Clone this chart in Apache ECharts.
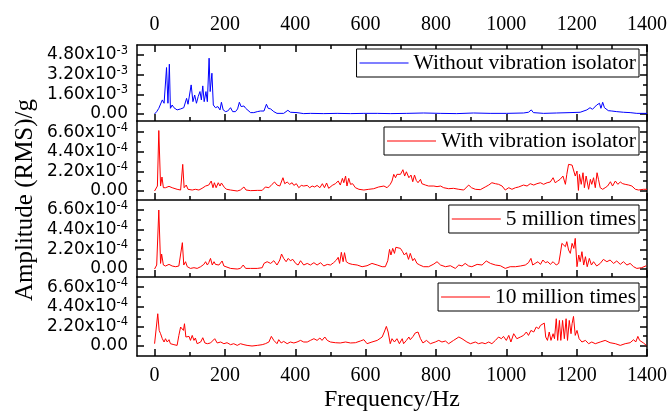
<!DOCTYPE html>
<html><head><meta charset="utf-8">
<script src="https://cdn.jsdelivr.net/npm/echarts@6/dist/echarts.min.js"></script>
<style>html,body{margin:0;padding:0;background:#fff}#c{width:670px;height:412px}</style>
</head><body><div id="c"></div>
<script>
// ---------- data ----------
const seriesNames = ['Without vibration isolator','With vibration isolator','5 million times','10 million times'];
const exponents = ['-3','-4','-4','-4']; // amplitude unit: x10^exp g
const xMajorTicks = [0,200,400,600,800,1000,1200,1400];
const xMinorTicks = [100,300,500,700,900,1100,1300];
const yMajorTicksTop = [0,1.6,3.2,4.8];
const yMinorTicksTop = [0.8,2.4,4.0];
const yMajorTicks = [0,2.2,4.4,6.6];
const yMinorTicks = [1.1,3.3,5.5];

const freq1 = [0,6,12,17,22,27,30,34,38,42,45,50,55,60,64,69,74,79,83,91,95,98,104,109,114,119,124,129,133,137,141,146,150,155,158,163,167,173,180,186,190,195,202,208,216,222,230,236,241,246,254,259,263,273,282,292,301,311,318,323,330,334,339,348,367,379,386,405,424,443,481,519,557,595,633,670,717,765,812,859,907,954,1001,1049,1063,1071,1077,1106,1143,1181,1210,1229,1238,1245,1250,1257,1262,1265,1269,1274,1279,1284,1290,1300,1314,1333,1352,1371,1390,1400];
const amp1 = [0,0.19,0.46,0.60,1.14,0.87,1.00,3.77,0.87,4.04,0.46,0.73,0.51,0.41,0.33,0.19,0.41,0.33,0.51,1.27,0.79,0.87,2.36,1.00,1.54,0.87,1.41,1.82,1.14,2.28,1.00,1.82,1.00,4.53,1.82,3.31,0.73,0.51,0.60,0.33,0.95,0.33,0.19,0.24,0.51,0.19,0.19,0.41,0.95,0.60,0.65,0.46,0.38,0.11,0.11,0.19,0.24,0.24,0.79,0.46,0.41,0.51,0.19,0.05,0.05,0.30,0.14,0.11,0.03,0.05,0.03,0.05,0.03,0.05,0.05,0.03,0.05,0.08,0.05,0.03,0.08,0.05,0.05,0.08,0.14,0.33,0.11,0.05,0.08,0.11,0.14,0.33,0.51,0.38,0.41,0.73,0.60,0.87,0.46,0.95,0.51,0.41,0.27,0.24,0.19,0.14,0.11,0.05,0.05,0.05];

const freq2 = [0,8,12,17,21,25,31,41,50,64,74,80,84,90,95,107,116,126,135,145,150,154,161,166,170,175,181,186,190,195,199,205,216,235,244,254,260,273,292,306,315,325,334,341,348,356,365,370,377,384,391,396,403,410,417,424,434,441,448,455,462,470,477,483,489,495,505,514,522,528,534,538,543,547,552,557,563,571,581,595,609,623,637,652,661,670,675,680,685,689,699,706,711,716,723,729,734,739,744,749,756,760,770,779,794,803,813,822,836,850,865,879,893,901,912,926,940,950,959,969,978,988,997,1007,1016,1026,1035,1049,1059,1068,1078,1087,1097,1106,1116,1125,1133,1139,1146,1153,1161,1168,1172,1177,1182,1187,1191,1196,1201,1205,1208,1213,1218,1222,1227,1234,1239,1243,1248,1253,1258,1262,1267,1274,1281,1288,1296,1302,1310,1317,1324,1331,1338,1348,1357,1367,1376,1390,1400];
const amp2 = [0,0.56,6.79,0.56,1.57,0.37,0.37,0.52,0.37,0.19,0.11,2.99,0.37,0.67,0.19,0.11,0.19,0.11,0.30,0.56,0.37,0.67,1.12,0.37,0.93,0.37,0.93,0.56,0.90,1.04,0.37,0.19,0.11,0,0.11,0.45,0.11,0.04,0.07,0.07,0.45,0.37,0.75,1.01,0.67,0.56,1.49,0.82,1.01,0.75,0.93,0.63,0.82,0.37,0.63,0.56,0.63,0.37,0.56,0.45,0.63,0.37,0.82,0.37,0.90,0.30,0.63,0.82,1.12,0.67,1.42,0.93,1.68,0.56,1.42,0.75,0.82,0.37,0.19,0.11,0.19,0.26,0.45,0.56,0.37,0.75,1.12,1.87,1.49,1.87,1.87,2.39,1.68,2.16,1.49,1.79,1.04,1.79,1.19,0.93,1.31,0.82,0.67,0.56,0.56,0.49,0.56,0.37,0.26,0.30,0.19,0.11,0.67,0.37,0.19,0.15,0.45,0.67,0.93,0.82,0.75,0.56,0.11,0.37,0.19,0.37,0.45,0.67,0.56,0.82,0.67,0.82,0.93,0.75,0.93,1.01,1.49,0.93,1.12,1.31,1.68,0.75,1.87,2.99,2.80,2.91,2.80,1.68,2.24,0.07,1.87,0.75,2.05,0.37,1.68,0.19,1.31,0.75,1.49,0.37,2.05,1.31,0.37,0.19,0.37,0.56,1.04,0.56,1.12,0.75,1.01,0.82,0.75,0.67,0.56,0.19,0.11,0.19,0.19];

const freq3 = [0,6,12,17,20,25,31,41,50,60,69,74,79,83,88,93,102,112,121,131,140,145,150,154,159,164,169,173,178,183,188,192,197,202,216,235,244,252,259,273,292,306,311,320,330,339,348,356,361,367,374,380,386,393,401,408,415,424,434,443,453,462,472,481,491,500,509,517,522,526,531,536,540,545,552,562,576,590,604,618,633,647,656,663,668,672,677,682,686,691,699,705,710,716,722,727,734,739,746,754,765,779,794,803,813,827,841,855,865,874,883,893,902,917,931,943,955,969,983,997,1011,1026,1040,1054,1063,1070,1075,1082,1090,1097,1104,1111,1118,1125,1133,1142,1149,1153,1158,1163,1168,1172,1177,1182,1187,1192,1196,1201,1206,1210,1215,1220,1225,1230,1236,1242,1248,1257,1267,1276,1286,1295,1305,1314,1324,1333,1343,1352,1362,1371,1385,1398];
const amp3 = [0,0.45,6.60,0.63,1.68,0.45,0.34,0.52,0.34,0.26,0.34,0.26,2.95,0.45,0.82,0.26,0.07,0.15,0.07,0.26,0.52,0.82,0.45,0.71,1.19,0.45,0.82,0.52,0.71,0.45,0.63,0.90,0.34,0.15,0.07,0,0.07,0.45,0.07,0.07,0.07,0.15,0.63,0.82,0.63,0.93,0.45,1.01,1.68,1.19,0.82,1.19,0.93,1.08,0.63,0.45,0.93,0.45,0.63,0.45,0.71,0.45,0.71,0.34,0.52,0.45,0.71,1.01,1.31,0.63,1.87,0.82,1.83,0.82,0.63,0.52,0.45,0.26,0.37,0.63,0.45,0.26,0.26,0.93,2.20,1.57,2.31,1.75,2.43,2.50,2.31,1.94,1.57,1.83,1.08,1.75,0.93,1.19,0.63,0.45,0.26,0.26,0.56,0.82,0.45,0.26,0.37,0.07,0.45,0.34,0.63,0.34,0.26,0.52,0.45,0.90,0.63,0.45,0.37,0.07,0.26,0.26,0.34,0.45,0.71,1.19,0.45,0.63,0.82,0.52,1.01,0.71,0.82,0.52,0.82,0.45,0.63,1.57,2.87,3.06,2.50,3.06,2.13,1.75,2.87,2.31,3.43,0.26,1.57,0.82,1.94,0.45,1.38,0.26,1.19,0.45,0.82,0.34,0.63,1.08,0.82,1.01,0.63,0.90,0.52,0.82,0.45,0.63,0.26,0.07,0.15,0.37];

const freq4 = [0,3,9,13,17,22,27,31,36,41,45,55,64,69,74,79,82,85,89,93,98,102,107,112,116,121,131,137,143,150,159,171,178,188,197,206,216,225,235,244,254,263,277,292,306,315,325,332,339,344,348,353,360,367,377,386,396,405,415,424,434,443,453,462,470,476,484,491,500,514,528,543,557,571,585,595,604,618,633,647,653,659,664,670,675,682,689,696,704,708,716,723,727,735,741,749,756,763,773,784,798,808,817,827,836,850,865,874,888,898,912,921,931,940,950,959,969,978,986,992,1000,1007,1013,1021,1030,1040,1049,1057,1063,1070,1078,1085,1092,1097,1102,1108,1112,1117,1122,1127,1133,1137,1142,1146,1151,1155,1160,1165,1170,1174,1179,1184,1187,1191,1196,1201,1207,1215,1225,1234,1243,1253,1267,1281,1295,1310,1324,1338,1352,1362,1368,1374,1379,1383,1390,1398];
const amp4 = [0.26,0.45,3.62,1.75,1.38,0.82,0.45,0.82,0.45,0.71,0.26,0.15,0.07,1.19,2.13,2.31,1.75,2.50,1.01,0.82,1.08,0.63,1.19,0.63,0.90,0.26,0.45,0.93,0.34,0.26,0.34,0.82,0.34,0.45,0.26,0.37,0.15,0.26,0.07,0.26,0.15,0.07,0,0.07,0.15,0.26,0.45,1.08,0.63,0.82,0.26,0.71,0.34,0.52,0.26,0.45,0.34,0.45,0.63,0.45,0.45,0.63,0.82,0.63,0.90,0.63,1.01,0.63,0.45,0.37,0.34,0.45,0.34,0.37,0.56,0.71,0.26,0.45,0.63,1.01,1.57,2.20,1.57,0.26,0.82,0.45,0.82,0.26,0.82,0.26,0.63,1.01,0.71,1.08,1.46,1.57,0.82,0.34,0.63,0.26,0.45,0.63,0.45,0.56,0.26,0.63,1.01,0.82,0.45,0.26,0.45,0.26,0.37,0.26,0.45,0.26,0.63,1.01,0.82,1.08,0.63,1.19,0.45,1.38,0.82,1.01,1.19,1.57,1.19,1.75,1.57,2.13,1.94,2.31,2.50,2.57,1.01,0.63,1.57,0.63,1.38,0.82,3.06,0.63,2.87,0.63,2.87,0.82,3.06,0.63,2.87,1.38,2.50,3.32,1.19,1.75,0.82,0.45,0.63,0.26,0.45,0.26,0.45,0.63,0.37,0.26,0.07,0.26,0.37,0.71,0.45,1.08,0.63,0.82,0.34,0.07];

// ---------- layout / style ----------
const freqs = [freq1,freq2,freq3,freq4];
const amps = [amp1,amp2,amp3,amp4];
const colors = ['#0000ff','#ff0000','#ff0000','#ff0000'];
const grids = [
  {left:137,right:23,top:45,height:76},
  {left:137,right:23,top:121,height:79},
  {left:137,right:23,top:200,height:77},
  {left:137,right:23,top:277,height:79}
];
const yRanges = [[-0.57,5.6],[-1.01,7.86],[-0.89,7.72],[-1.12,7.74]];
const legendTops = [49,127,205,283];
const SERIF = '"Liberation Serif","Times New Roman",serif';
const SANS = '"DejaVu Sans",Verdana,sans-serif';
const black = '#000';
const lineSt = {color:black,width:1.5};

const xAxes = [], yAxes = [], series = [], legends = [];
function xAx(gi, pos, major, labels, line){
  const ticks = major ? xMajorTicks : xMinorTicks;
  return {
    gridIndex:gi, type:'value', min:-50, max:1400, position:pos,
    axisLine:{show:line, onZero:false, lineStyle:lineSt},
    axisTick:{show:true, inside:true, length: major?7:4, customValues:ticks, lineStyle:lineSt},
    axisLabel:{show:labels, customValues:xMajorTicks, margin:10, color:black, fontFamily:SERIF, fontSize:20,
      formatter: v => String(Math.round(v))},
    splitLine:{show:false}
  };
}
function yAx(gi, pos, major, labels, line){
  const top = gi===0;
  const ticks = major ? (top?yMajorTicksTop:yMajorTicks) : (top?yMinorTicksTop:yMinorTicks);
  const exp = exponents[gi];
  return {
    gridIndex:gi, type:'value', min:yRanges[gi][0], max:yRanges[gi][1], position:pos,
    axisLine:{show:line, onZero:false, lineStyle:lineSt},
    axisTick:{show:true, inside:true, length: major?7:4, customValues:ticks, lineStyle:lineSt},
    axisLabel:{show:labels, customValues:top?yMajorTicksTop:yMajorTicks, margin:9,
      formatter: v => Math.abs(v) < 1e-9 ? '{m|0.00}' : '{m|' + v.toFixed(2) + 'x10}{s|' + exp + '}',
      rich:{
        m:{fontFamily:SANS, fontSize:17, lineHeight:20, color:black},
        s:{fontFamily:SANS, fontSize:11.5, lineHeight:11, verticalAlign:'top', color:black}
      }},
    splitLine:{show:false}
  };
}
for (let gi=0; gi<4; gi++){
  const xi = xAxes.length;
  xAxes.push(xAx(gi,'bottom',true,gi===3,true));
  xAxes.push(xAx(gi,'bottom',false,false,false));
  if (gi===0){
    xAxes.push(xAx(gi,'top',true,true,true));
    xAxes.push(xAx(gi,'top',false,false,false));
  }
  const yi = yAxes.length;
  yAxes.push(yAx(gi,'left',true,true,true));
  yAxes.push(yAx(gi,'left',false,false,false));
  yAxes.push(yAx(gi,'right',true,false,true));
  yAxes.push(yAx(gi,'right',false,false,false));
  const f = freqs[gi], a = amps[gi];
  const n = Math.min(f.length, a.length);
  const data = [];
  for (let j=0;j<n;j++) data.push([f[j], a[j]]);
  series.push({
    name: seriesNames[gi], type:'line', xAxisIndex:xi, yAxisIndex:yi,
    data, showSymbol:false, symbol:'none', smooth:false,
    lineStyle:{color:colors[gi], width:1}, itemStyle:{color:colors[gi]},
    animation:false
  });
  legends.push({
    data:[seriesNames[gi]], right:31, top:legendTops[gi], orient:'horizontal',
    icon:'rect', itemWidth:49, itemHeight:1, itemGap:0, selectedMode:false,
    padding:[3,3,3,3], borderColor:black, borderWidth:1, backgroundColor:'#fff',
    textStyle:{fontFamily:SERIF, fontSize:21.5, lineHeight:22, color:black}
  });
}

const chart = echarts.init(document.getElementById('c'), null, {renderer:'canvas'});
chart.setOption({
  animation:false,
  backgroundColor:'#fff',
  grid: grids,
  xAxis: xAxes,
  yAxis: yAxes,
  legend: legends,
  series,
  graphic:[
    {type:'text', x:25, y:200, rotation:Math.PI/2,
      style:{text:'Amplitude (RMS)/g', font:'25px ' + SERIF, fill:black, align:'center', verticalAlign:'middle'}},
    {type:'text', x:392, y:400,
      style:{text:'Frequency/Hz', font:'24px ' + SERIF, fill:black, align:'center', verticalAlign:'middle'}}
  ]
});
</script>
</body></html>
